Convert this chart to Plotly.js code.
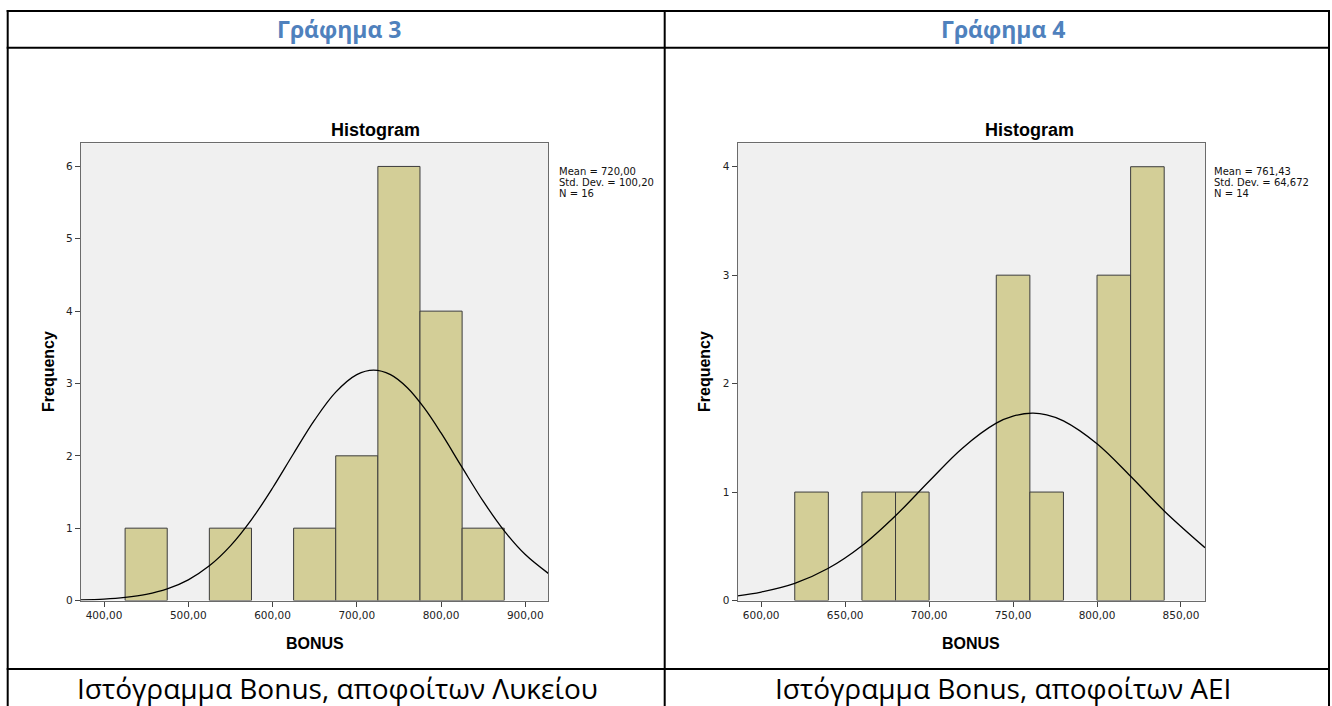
<!DOCTYPE html>
<html>
<head>
<meta charset="utf-8">
<script src="https://cdn.plot.ly/plotly-3.0.1.min.js"></script>
<style>html,body{margin:0;padding:0;background:#fff;}#chart{width:1332px;height:706px;}</style>
</head>
<body>
<div id="chart"></div>
<script>
// ---- Data ----
const headers = ["Γράφημα 3", "Γράφημα 4"];
const captions = ["Ιστόγραμμα Bonus, αποφοίτων Λυκείου", "Ιστόγραμμα Bonus, αποφοίτων ΑΕΙ"];

// Chart 3 (Lyceum graduates)
const binCenters3 = [450, 550, 650, 700, 750, 800, 850];
const counts3 = [1, 1, 1, 2, 6, 4, 1];
const binWidth3 = 50;
const stats3 = ["Mean = 720,00", "Std. Dev. = 100,20", "N = 16"];
const curveX3 = [372.3, 400, 425, 450, 475, 500, 525, 550, 575, 600, 625, 650, 675, 700, 720, 740, 760, 780, 800, 825, 850, 875, 900, 927.3];
const curveY3 = [0.008, 0.019, 0.042, 0.084, 0.160, 0.286, 0.479, 0.755, 1.118, 1.555, 2.032, 2.496, 2.880, 3.122, 3.185, 3.122, 2.941, 2.662, 2.316, 1.840, 1.373, 0.963, 0.635, 0.375];

// Chart 4 (University graduates)
const binCenters4 = [630, 670, 690, 750, 770, 810, 830];
const counts4 = [1, 1, 1, 3, 1, 3, 4];
const binWidth4 = 20;
const stats4 = ["Mean = 761,43", "Std. Dev. = 64,672", "N = 14"];
const curveX4 = [585.9, 600, 620, 640, 660, 680, 700, 720, 740, 750, 761.4, 770, 780, 800, 820, 840, 864.3];
const curveY4 = [0.043, 0.078, 0.158, 0.297, 0.505, 0.782, 1.100, 1.407, 1.635, 1.700, 1.727, 1.712, 1.657, 1.446, 1.146, 0.826, 0.487];

const chartTitle = "Histogram";
const xTitle = "BONUS";
const yTitle = "Frequency";

// ---- Layout helpers ----
const W = 1332, H = 706;
const px = x => x / W;
const py = y => 1 - y / H;

const barColor = '#D3CE97';
const barLine = '#3C3C3C';

const traces = [
  {type:'bar', x:binCenters3, y:counts3, width:binWidth3, xaxis:'x', yaxis:'y',
   marker:{color:barColor, line:{color:barLine, width:1}}, hoverinfo:'x+y'},
  {type:'scatter', mode:'lines', x:curveX3, y:curveY3, xaxis:'x', yaxis:'y',
   line:{color:'#000', width:1.3, shape:'spline'}},
  {type:'bar', x:binCenters4, y:counts4, width:binWidth4, xaxis:'x2', yaxis:'y2',
   marker:{color:barColor, line:{color:barLine, width:1}}, hoverinfo:'x+y'},
  {type:'scatter', mode:'lines', x:curveX4, y:curveY4, xaxis:'x2', yaxis:'y2',
   line:{color:'#000', width:1.3, shape:'spline'}}
];

const tickFont = {family:'DejaVu Sans', size:10.5, color:'#222'};
const axisCommon = {showline:true, mirror:true, linecolor:'#6B6B6B', linewidth:1,
  showgrid:false, zeroline:false, ticks:'outside', ticklen:5, tickcolor:'#444',
  tickfont:tickFont, fixedrange:true};

const plotTop = 143.3, plotBottom = 600.5;

const layout = {
  width:W, height:H,
  margin:{l:0, r:0, t:0, b:0, pad:0},
  paper_bgcolor:'#ffffff',
  plot_bgcolor:'#F0F0F0',
  showlegend:false,
  separators:',.',
  bargap:0,
  xaxis:Object.assign({}, axisCommon, {domain:[px(80.7), px(548.3)], range:[372.3, 927.3],
    tick0:400, dtick:100, tickformat:'.2f', anchor:'y'}),
  yaxis:Object.assign({}, axisCommon, {domain:[py(plotBottom), py(plotTop)], range:[0, 6.32],
    tick0:0, dtick:1, tickformat:'d', anchor:'x'}),
  xaxis2:Object.assign({}, axisCommon, {domain:[px(737.5), px(1205)], range:[585.9, 864.3],
    tick0:600, dtick:50, tickformat:'.2f', anchor:'y2'}),
  yaxis2:Object.assign({}, axisCommon, {domain:[py(plotBottom), py(plotTop)], range:[0, 4.216],
    tick0:0, dtick:1, tickformat:'d', anchor:'x2'}),
  shapes:[],
  annotations:[]
};

// Table grid lines
const lineStyle = {color:'#000', width:2};
const hline = (y, x0, x1) => ({type:'line', xref:'paper', yref:'paper', x0:px(x0), x1:px(x1), y0:py(y), y1:py(y), line:lineStyle});
const vline = (x, y0, y1) => ({type:'line', xref:'paper', yref:'paper', x0:px(x), x1:px(x), y0:py(y0), y1:py(y1), line:lineStyle});
layout.shapes.push(hline(11, 6.7, 1330));
layout.shapes.push(hline(47.7, 6.7, 1330));
layout.shapes.push(hline(669, 6.7, 1330));
layout.shapes.push(vline(7.7, 10, 706));
layout.shapes.push(vline(664.7, 10, 706));
layout.shapes.push(vline(1329, 10, 706));

const ann = (text, x, y, font, extra) => Object.assign({text:text, xref:'paper', yref:'paper',
  x:px(x), y:py(y), showarrow:false, xanchor:'center', yanchor:'middle', font:font}, extra || {});

// Headers
const headerFont = {family:'Open Sans', size:23, color:'#4F81BD', weight:'bold'};
layout.annotations.push(ann(headers[0], 339, 29, headerFont));
layout.annotations.push(ann(headers[1], 1003, 29, headerFont));

// Captions
const capFont = {family:'Open Sans', size:28, color:'#000'};
layout.annotations.push(ann(captions[0], 337.5, 688, capFont));
layout.annotations.push(ann(captions[1], 1003, 688, capFont));

// Chart titles
const titleFont = {family:'Liberation Sans', size:18, color:'#000', weight:'bold'};
layout.annotations.push(ann(chartTitle, 375, 130, titleFont));
layout.annotations.push(ann(chartTitle, 1029.5, 130, titleFont));

// Axis titles
const axTitleFont = {family:'Liberation Sans', size:16, color:'#000', weight:'bold'};
layout.annotations.push(ann(xTitle, 314.5, 643, axTitleFont));
layout.annotations.push(ann(xTitle, 971, 643, axTitleFont));
layout.annotations.push(ann(yTitle, 48, 372, axTitleFont, {textangle:-90}));
layout.annotations.push(ann(yTitle, 704, 372, axTitleFont, {textangle:-90}));

// Statistics text
const statFont = {family:'DejaVu Sans', size:10, color:'#111'};
const statY = [172, 182.5, 193];
stats3.forEach((t, i) => layout.annotations.push(ann(t, 556.7, statY[i], statFont, {xanchor:'left'})));
stats4.forEach((t, i) => layout.annotations.push(ann(t, 1212.3, statY[i], statFont, {xanchor:'left'})));

Plotly.newPlot('chart', traces, layout, {displayModeBar:false, staticPlot:true});
</script>
</body>
</html>
